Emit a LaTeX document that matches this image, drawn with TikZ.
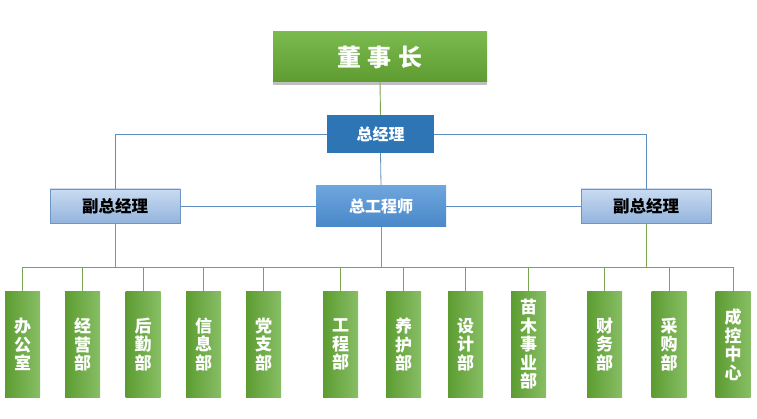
\documentclass[tikz,border=0pt]{standalone}
\usepackage{fontspec}
\newfontfamily\cjk{Noto Sans CJK SC}
\usetikzlibrary{shadows}
\definecolor{gtop}{HTML}{7BBA4E}
\definecolor{gbot}{HTML}{5E9C32}
\definecolor{cleft}{HTML}{5C9C31}
\definecolor{cright}{HTML}{88BE65}
\definecolor{zjlblue}{HTML}{2E75B6}
\definecolor{ztop}{HTML}{6EA6DD}
\definecolor{zbot}{HTML}{4A88C9}
\definecolor{ftop}{HTML}{C9DBF1}
\definecolor{fbot}{HTML}{93B4DD}
\definecolor{fborder}{HTML}{6F95C4}
\definecolor{bline}{HTML}{5F8FC0}
\definecolor{gline}{HTML}{7AA54F}
\tikzset{
  boss/.style={inner sep=0pt, minimum width=214pt, minimum height=50pt, top color=gtop, bottom color=gbot, draw=none,
    drop shadow={shadow xshift=0pt, shadow yshift=-3pt, opacity=0.25, fill=black},
    font=\cjk\bfseries\fontsize{24}{26}\selectfont, text=white},
  gm/.style={inner sep=0pt, minimum width=107pt, minimum height=38pt, fill=zjlblue, draw=none,
    font=\cjk\bfseries\fontsize{16}{18}\selectfont, text=white},
  ce/.style={inner sep=0pt, minimum width=130pt, minimum height=41pt, top color=ztop, bottom color=zbot, draw=none,
    font=\cjk\bfseries\fontsize{16}{18}\selectfont, text=white},
  vgm/.style={inner sep=0pt, minimum width=130pt, minimum height=34pt, top color=ftop, bottom color=fbot, draw=fborder, line width=0.8pt,
    font=\cjk\bfseries\fontsize{16.5}{18}\selectfont, text=black},
  dept/.style={inner sep=0pt, minimum width=35pt, minimum height=105pt, left color=cleft, right color=cright, draw=none,
    align=center, font=\cjk\bfseries\fontsize{17}{18.5}\selectfont, text=white},
  bl/.style={draw=bline, line width=0.8pt},
  gl/.style={draw=gline, line width=0.9pt}
}
\begin{document}
\begin{tikzpicture}[x=1pt,y=-1pt]
\useasboundingbox (0,0) rectangle (757,419);
\node[boss] (dsz) at (380,57) {董\hspace{7pt}事\hspace{7pt}长};
\node[gm] (zjl) at (380.5,134) {总经理};
\node[ce] (zgcs) at (381,206) {总工程师};
\node[vgm] (fz1) at (115,206) {副总经理};
\node[vgm] (fz2) at (646,206) {副总经理};
\foreach \n/\x/\t in {d1/22.5/办\\公\\室, d2/82.5/经\\营\\部, d3/143/后\\勤\\部, d4/203.5/信\\息\\部, d5/263.5/党\\支\\部, d6/340.5/工\\程\\部, d7/403.5/养\\护\\部, d8/465.5/设\\计\\部, d9/528.5/苗\\木\\事\\业\\部, d10/604.5/财\\务\\部, d11/669/采\\购\\部, d12/733/成\\控\\中\\心}
  \node[dept] (\n) at (\x,344.5) {\t};
\coordinate (busL) at (22.5,267);
\coordinate (busR) at (733,267);
% connectors
\draw[gl] (dsz.south) -- (zjl.north);
\draw[bl] (zjl.south) -- (zgcs.north);
\draw[bl] (zjl.west) -| (fz1.north);
\draw[bl] (zjl.east) -| (fz2.north);
\draw[bl] (zgcs.west) -- (fz1.east);
\draw[bl] (zgcs.east) -- (fz2.west);
\draw[gl] (busL) -- (busR);
\draw[gl] (fz1.south) -- (fz1.south |- busL);
\draw[gl] (zgcs.south) -- (zgcs.south |- busL);
\draw[gl] (fz2.south) -- (fz2.south |- busL);
\foreach \n in {d1,d2,d3,d4,d5,d6,d7,d8,d9,d10,d11,d12}
  \draw[gl] (\n.north) -- (\n.north |- busL);
\end{tikzpicture}
\end{document}
